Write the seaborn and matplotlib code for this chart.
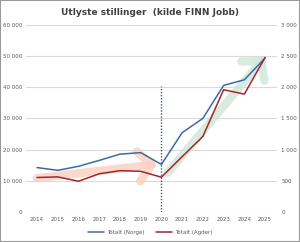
import matplotlib
matplotlib.use("Agg")
import matplotlib.pyplot as plt
import seaborn as sns
import pandas as pd
from matplotlib.patches import Rectangle

years = [2014, 2015, 2016, 2017, 2018, 2019, 2020, 2021, 2022, 2023, 2024, 2025]
norge = [14200, 13300, 14600, 16500, 18500, 19000, 15200, 25400, 30000, 40600, 42400, 49400]
agder = [550, 560, 490, 610, 660, 650, 555, 885, 1210, 1960, 1890, 2480]
left_ticks = [0, 10000, 20000, 30000, 40000, 50000, 60000]
right_ticks = [0, 500, 1000, 1500, 2000, 2500, 3000]
title = "Utlyste stillinger  (kilde FINN Jobb)"
labels = ["Totalt (Norge)", "Totalt (Agder)"]

df = pd.DataFrame({"year": years, "norge": norge, "agder": agder})

sns.set_theme(style="white")
plt.rcParams['font.family'] = ['DejaVu Sans']

fig = plt.figure(figsize=(3.0, 2.42), dpi=100)
ax = fig.add_axes([0.0867, 0.125, 0.837, 0.7716])
ax2 = ax.twinx()

blue = "#3d6aa5"
red = "#a3262b"
tick_col = "#595959"

ax.set_xlim(2013.47, 2025.58)
ax.set_ylim(0, 60000)
ax2.set_ylim(0, 3000)

for y in left_ticks:
    ax.axhline(y, color="#d9d9d9", lw=0.8, zorder=0)

# arrows
ax.annotate("", xy=(2019.8, 15300), xytext=(2014.0, 10800),
            arrowprops=dict(arrowstyle="->,head_length=0.8,head_width=0.9",
                            color="#fad3c4", lw=6, alpha=0.85, shrinkA=0, shrinkB=0),
            zorder=1)
ax.annotate("", xy=(2025.0, 49800), xytext=(2020.3, 12500),
            arrowprops=dict(arrowstyle="->,head_length=0.8,head_width=0.9",
                            color="#d0e8dc", lw=6, alpha=0.85, shrinkA=0, shrinkB=0),
            zorder=1)

ax.plot([2020, 2020], [0, 40500], color="#3a5a88", lw=1.0, ls=(0, (1, 1.2)), zorder=2)

sns.lineplot(data=df, x="year", y="norge", ax=ax, color=blue, lw=1.1, label=labels[0], legend=False, zorder=3)
sns.lineplot(data=df, x="year", y="agder", ax=ax2, color=red, lw=1.1, label=labels[1], legend=False, zorder=3)

def fmt(v):
    return f"{v:,}".replace(",", " ")

ax.set_yticks(left_ticks)
ax.set_yticklabels([fmt(v) for v in left_ticks])
ax2.set_yticks(right_ticks)
ax2.set_yticklabels([fmt(v) for v in right_ticks])
ax.set_xticks(years)
ax.set_xticklabels([str(y) for y in years])

for a in (ax, ax2):
    a.tick_params(axis="both", labelsize=4, colors=tick_col, length=0, pad=3)
    for s in a.spines.values():
        s.set_visible(False)
    a.set_xlabel("")
    a.set_ylabel("")
    a.grid(False)
ax.tick_params(axis="x", pad=4)

fig.text(0.5, 0.948, title, ha="center", va="center", fontsize=6.5, fontweight="bold", color="#404040")

h1, = ax.plot([], [], color=blue, lw=1.1)
h2, = ax.plot([], [], color=red, lw=1.1)
fig.legend([h1, h2], labels, loc="center", bbox_to_anchor=(0.5, 0.04), ncol=2, frameon=False,
           fontsize=4, handlelength=3, columnspacing=2, handletextpad=0.5, labelcolor=tick_col)

fig.patches.append(Rectangle((0, 0), 1, 1, transform=fig.transFigure, fill=False,
                             edgecolor="#9a9a9a", lw=1.5))

fig.savefig("out.png", dpi=100)
